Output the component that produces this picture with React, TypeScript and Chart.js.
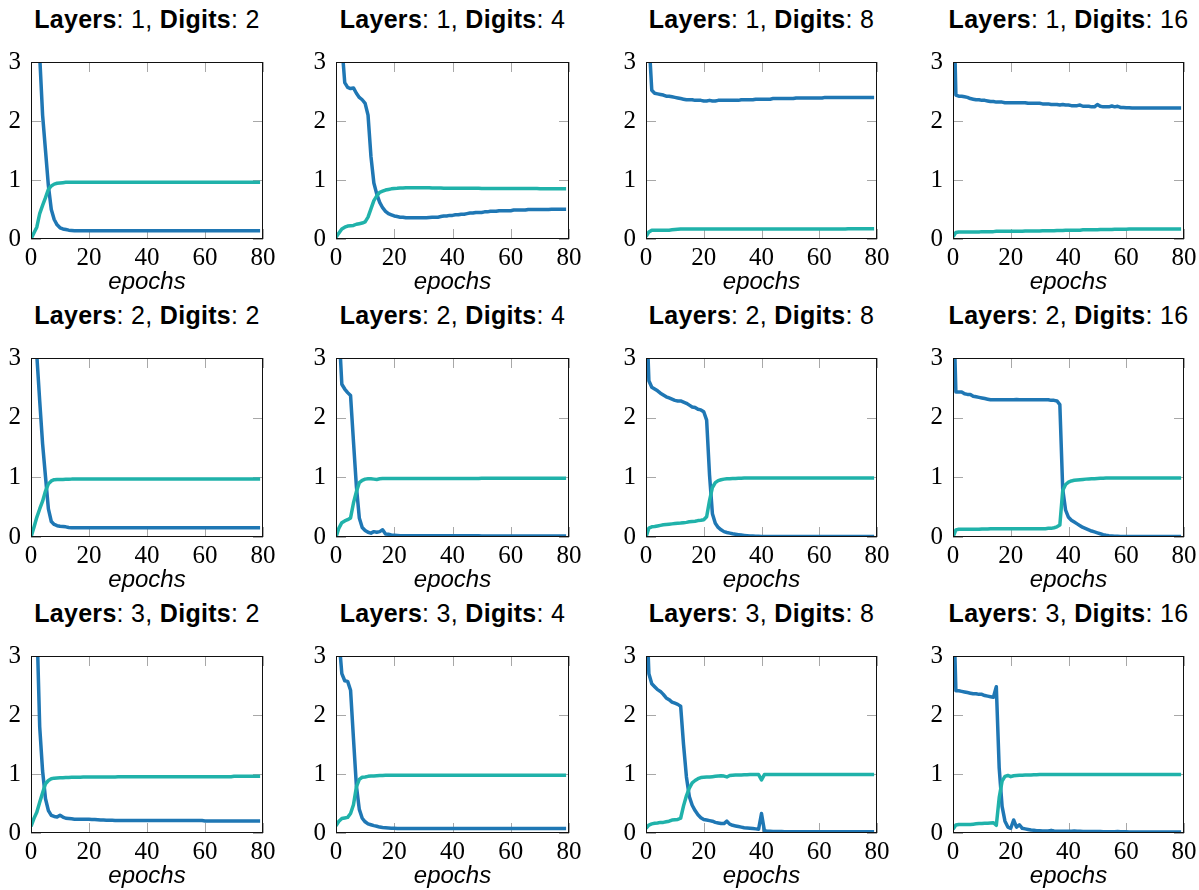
import React, { useEffect, useRef } from "react";
import { Chart, registerables } from "chart.js";

Chart.register(...registerables);

// ---------- data ----------
const epochs = [
  0, 1, 2, 3, 4, 5, 6, 7, 8, 9, 10, 11, 12, 13, 14, 15, 16, 17, 18, 19,
  20, 21, 22, 23, 24, 25, 26, 27, 28, 29, 30, 31, 32, 33, 34, 35, 36, 37, 38, 39,
  40, 41, 42, 43, 44, 45, 46, 47, 48, 49, 50, 51, 52, 53, 54, 55, 56, 57, 58, 59,
  60, 61, 62, 63, 64, 65, 66, 67, 68, 69, 70, 71, 72, 73, 74, 75, 76, 77, 78, 79,
];
const xTicks = [0, 20, 40, 60, 80];
const yTicks = [0, 1, 2, 3];

const lossL1D2 = [
  4.6, 4.2, 3.6, 3.1, 2.1, 1.5, 0.9, 0.5, 0.33, 0.24,
  0.19, 0.17, 0.16, 0.15, 0.145, 0.14, 0.14, 0.14, 0.14, 0.14,
  0.14, 0.14, 0.14, 0.14, 0.14, 0.14, 0.14, 0.14, 0.14, 0.14,
  0.14, 0.14, 0.14, 0.14, 0.14, 0.14, 0.14, 0.14, 0.14, 0.14,
  0.14, 0.14, 0.14, 0.14, 0.14, 0.14, 0.14, 0.14, 0.14, 0.14,
  0.14, 0.14, 0.14, 0.14, 0.14, 0.14, 0.14, 0.14, 0.14, 0.14,
  0.14, 0.14, 0.14, 0.14, 0.14, 0.14, 0.14, 0.14, 0.14, 0.14,
  0.14, 0.14, 0.14, 0.14, 0.14, 0.14, 0.14, 0.14, 0.14, 0.14,
];
const accL1D2 = [
  0.0, 0.1, 0.2, 0.43, 0.57, 0.7, 0.84, 0.9, 0.93, 0.945,
  0.95, 0.955, 0.96, 0.96, 0.96, 0.96, 0.96, 0.96, 0.96, 0.96,
  0.96, 0.96, 0.96, 0.96, 0.96, 0.96, 0.96, 0.96, 0.96, 0.96,
  0.96, 0.96, 0.96, 0.96, 0.96, 0.96, 0.96, 0.96, 0.96, 0.96,
  0.96, 0.96, 0.96, 0.96, 0.96, 0.96, 0.96, 0.96, 0.96, 0.96,
  0.96, 0.96, 0.96, 0.96, 0.96, 0.96, 0.96, 0.96, 0.96, 0.96,
  0.96, 0.96, 0.96, 0.96, 0.96, 0.96, 0.96, 0.96, 0.96, 0.96,
  0.96, 0.96, 0.96, 0.96, 0.96, 0.96, 0.96, 0.96, 0.96, 0.96,
];

const lossL1D4 = [
  4.3, 3.6, 3.3, 2.65, 2.57, 2.55, 2.56, 2.47, 2.4, 2.36,
  2.3, 2.1, 1.4, 0.95, 0.76, 0.62, 0.53, 0.47, 0.43, 0.41,
  0.39, 0.38, 0.37, 0.37, 0.36, 0.36, 0.36, 0.36, 0.36, 0.36,
  0.36, 0.36, 0.365, 0.37, 0.37, 0.37, 0.38, 0.39, 0.39, 0.4,
  0.4, 0.41, 0.41, 0.42, 0.42, 0.43, 0.44, 0.44, 0.45, 0.45,
  0.45, 0.46, 0.46, 0.47, 0.47, 0.47, 0.48, 0.48, 0.48, 0.48,
  0.48, 0.49, 0.49, 0.49, 0.49, 0.49, 0.5, 0.5, 0.5, 0.5,
  0.5, 0.5, 0.5, 0.5, 0.505, 0.505, 0.505, 0.505, 0.505, 0.505,
];
const accL1D4 = [
  0.03, 0.1, 0.17, 0.2, 0.22, 0.225, 0.23, 0.25, 0.26, 0.27,
  0.29, 0.37, 0.51, 0.65, 0.73, 0.79, 0.81, 0.83, 0.84, 0.85,
  0.857, 0.86, 0.865, 0.865, 0.87, 0.87, 0.87, 0.87, 0.87, 0.87,
  0.87, 0.87, 0.87, 0.865, 0.865, 0.865, 0.865, 0.86, 0.86, 0.86,
  0.86, 0.86, 0.86, 0.86, 0.86, 0.86, 0.86, 0.86, 0.86, 0.86,
  0.855, 0.855, 0.855, 0.855, 0.855, 0.855, 0.855, 0.855, 0.855, 0.855,
  0.855, 0.855, 0.855, 0.855, 0.855, 0.855, 0.855, 0.855, 0.855, 0.855,
  0.85, 0.85, 0.85, 0.85, 0.85, 0.85, 0.85, 0.85, 0.85, 0.85,
];

const lossL1D8 = [
  4.5, 3.4, 2.52, 2.47, 2.46, 2.45, 2.44, 2.42, 2.42, 2.41,
  2.4, 2.39, 2.38, 2.37, 2.36, 2.36, 2.36, 2.35, 2.35, 2.35,
  2.34, 2.34, 2.35, 2.34, 2.34, 2.35, 2.35, 2.35, 2.35, 2.35,
  2.35, 2.35, 2.35, 2.36, 2.36, 2.36, 2.36, 2.36, 2.37, 2.37,
  2.37, 2.37, 2.37, 2.37, 2.38, 2.38, 2.38, 2.38, 2.38, 2.38,
  2.38, 2.38, 2.39, 2.39, 2.39, 2.39, 2.39, 2.39, 2.39, 2.39,
  2.39, 2.39, 2.4, 2.4, 2.4, 2.4, 2.4, 2.4, 2.4, 2.4,
  2.4, 2.4, 2.4, 2.4, 2.4, 2.4, 2.4, 2.4, 2.4, 2.4,
];
const accL1D8 = [
  0.04, 0.12, 0.15, 0.15, 0.15, 0.15, 0.15, 0.15, 0.15, 0.155,
  0.16, 0.165, 0.17, 0.17, 0.17, 0.17, 0.17, 0.17, 0.17, 0.17,
  0.17, 0.17, 0.17, 0.17, 0.17, 0.17, 0.17, 0.17, 0.17, 0.17,
  0.17, 0.17, 0.17, 0.17, 0.17, 0.17, 0.17, 0.17, 0.17, 0.17,
  0.17, 0.17, 0.17, 0.17, 0.17, 0.17, 0.17, 0.17, 0.17, 0.17,
  0.17, 0.17, 0.17, 0.17, 0.17, 0.17, 0.17, 0.17, 0.17, 0.17,
  0.17, 0.17, 0.17, 0.17, 0.17, 0.17, 0.17, 0.17, 0.17, 0.17,
  0.175, 0.175, 0.175, 0.175, 0.175, 0.175, 0.175, 0.175, 0.175, 0.175,
];

const lossL1D16 = [
  4.5, 2.44, 2.42, 2.42, 2.41, 2.4, 2.38, 2.37, 2.36, 2.36,
  2.35, 2.35, 2.34, 2.33, 2.33, 2.32, 2.32, 2.32, 2.31, 2.31,
  2.31, 2.31, 2.31, 2.31, 2.31, 2.31, 2.3, 2.3, 2.3, 2.3,
  2.3, 2.29, 2.29, 2.29, 2.28, 2.28, 2.28, 2.27, 2.28, 2.27,
  2.27, 2.26, 2.26, 2.26, 2.27, 2.25, 2.25, 2.25, 2.24, 2.24,
  2.28, 2.25, 2.24, 2.24, 2.24, 2.255, 2.24, 2.25, 2.23, 2.23,
  2.225, 2.225, 2.22, 2.22, 2.22, 2.22, 2.22, 2.22, 2.22, 2.22,
  2.22, 2.22, 2.22, 2.22, 2.22, 2.22, 2.22, 2.22, 2.22, 2.22,
];
const accL1D16 = [
  0.04, 0.11, 0.12, 0.12, 0.12, 0.12, 0.12, 0.12, 0.12, 0.12,
  0.125, 0.125, 0.125, 0.125, 0.125, 0.13, 0.13, 0.13, 0.13, 0.13,
  0.13, 0.13, 0.13, 0.13, 0.13, 0.135, 0.135, 0.135, 0.135, 0.135,
  0.135, 0.14, 0.14, 0.14, 0.14, 0.14, 0.145, 0.145, 0.145, 0.15,
  0.15, 0.15, 0.15, 0.15, 0.15, 0.155, 0.155, 0.155, 0.155, 0.155,
  0.155, 0.16, 0.16, 0.16, 0.16, 0.16, 0.165, 0.165, 0.165, 0.165,
  0.165, 0.17, 0.17, 0.17, 0.17, 0.17, 0.17, 0.17, 0.17, 0.17,
  0.17, 0.17, 0.17, 0.17, 0.17, 0.17, 0.17, 0.17, 0.17, 0.17,
];

const lossL2D2 = [
  4.6, 3.8, 3.05, 2.28, 1.56, 1.01, 0.47, 0.26, 0.21, 0.19,
  0.18, 0.175, 0.17, 0.16, 0.155, 0.155, 0.155, 0.155, 0.155, 0.155,
  0.155, 0.155, 0.155, 0.155, 0.155, 0.155, 0.155, 0.155, 0.155, 0.155,
  0.155, 0.155, 0.155, 0.155, 0.155, 0.155, 0.155, 0.155, 0.155, 0.155,
  0.155, 0.155, 0.155, 0.155, 0.155, 0.155, 0.155, 0.155, 0.155, 0.155,
  0.155, 0.155, 0.155, 0.155, 0.155, 0.155, 0.155, 0.155, 0.155, 0.155,
  0.155, 0.155, 0.155, 0.155, 0.155, 0.155, 0.155, 0.155, 0.155, 0.155,
  0.155, 0.155, 0.155, 0.155, 0.155, 0.155, 0.155, 0.155, 0.155, 0.155,
];
const accL2D2 = [
  0.0, 0.16, 0.33, 0.47, 0.6, 0.77, 0.89, 0.94, 0.96, 0.963,
  0.965, 0.965, 0.967, 0.967, 0.97, 0.97, 0.97, 0.97, 0.97, 0.97,
  0.97, 0.97, 0.97, 0.97, 0.97, 0.97, 0.97, 0.97, 0.97, 0.97,
  0.97, 0.97, 0.97, 0.97, 0.97, 0.97, 0.97, 0.97, 0.97, 0.97,
  0.97, 0.97, 0.97, 0.97, 0.97, 0.97, 0.97, 0.97, 0.97, 0.97,
  0.97, 0.97, 0.97, 0.97, 0.97, 0.97, 0.97, 0.97, 0.97, 0.97,
  0.97, 0.97, 0.97, 0.97, 0.97, 0.97, 0.97, 0.97, 0.97, 0.97,
  0.97, 0.97, 0.97, 0.97, 0.97, 0.97, 0.97, 0.97, 0.97, 0.97,
];

const lossL2D4 = [
  4.5, 3.5, 2.56, 2.48, 2.42, 2.37, 1.6, 0.85, 0.32, 0.16,
  0.11, 0.08, 0.065, 0.09, 0.08, 0.09, 0.12, 0.05, 0.045, 0.035,
  0.03, 0.025, 0.02, 0.02, 0.02, 0.02, 0.02, 0.02, 0.02, 0.02,
  0.02, 0.02, 0.02, 0.02, 0.02, 0.02, 0.02, 0.02, 0.02, 0.02,
  0.02, 0.02, 0.02, 0.02, 0.02, 0.02, 0.02, 0.02, 0.02, 0.02,
  0.015, 0.015, 0.015, 0.015, 0.015, 0.015, 0.015, 0.015, 0.015, 0.015,
  0.015, 0.015, 0.015, 0.015, 0.015, 0.015, 0.015, 0.015, 0.015, 0.015,
  0.015, 0.015, 0.015, 0.015, 0.015, 0.015, 0.015, 0.015, 0.015, 0.015,
];
const accL2D4 = [
  0.0, 0.15, 0.24, 0.27, 0.29, 0.32, 0.57, 0.76, 0.91, 0.95,
  0.97, 0.975, 0.975, 0.97, 0.965, 0.975, 0.98, 0.98, 0.98, 0.98,
  0.98, 0.98, 0.98, 0.98, 0.98, 0.98, 0.98, 0.98, 0.98, 0.98,
  0.98, 0.98, 0.98, 0.98, 0.98, 0.98, 0.98, 0.98, 0.98, 0.98,
  0.98, 0.98, 0.98, 0.98, 0.98, 0.98, 0.98, 0.98, 0.98, 0.98,
  0.985, 0.985, 0.985, 0.985, 0.985, 0.985, 0.985, 0.985, 0.985, 0.985,
  0.985, 0.985, 0.985, 0.985, 0.985, 0.985, 0.985, 0.985, 0.985, 0.985,
  0.985, 0.985, 0.985, 0.985, 0.985, 0.985, 0.985, 0.985, 0.985, 0.985,
];

const lossL2D8 = [
  4.0, 2.62, 2.51, 2.48, 2.45, 2.41, 2.38, 2.35, 2.33, 2.31,
  2.29, 2.28, 2.28, 2.26, 2.24, 2.21, 2.18, 2.17, 2.14, 2.13,
  2.1, 1.96, 1.04, 0.39, 0.23, 0.16, 0.12, 0.09, 0.076, 0.065,
  0.054, 0.047, 0.04, 0.033, 0.027, 0.022, 0.018, 0.015, 0.013, 0.012,
  0.01, 0.01, 0.01, 0.01, 0.01, 0.01, 0.01, 0.01, 0.01, 0.01,
  0.01, 0.01, 0.01, 0.01, 0.01, 0.01, 0.01, 0.01, 0.01, 0.01,
  0.01, 0.01, 0.01, 0.01, 0.01, 0.01, 0.01, 0.01, 0.01, 0.01,
  0.01, 0.01, 0.01, 0.01, 0.01, 0.01, 0.01, 0.01, 0.01, 0.01,
];
const accL2D8 = [
  0.0, 0.15, 0.17, 0.175, 0.185, 0.195, 0.205, 0.21, 0.215, 0.22,
  0.225, 0.23, 0.234, 0.24, 0.245, 0.255, 0.26, 0.265, 0.275, 0.28,
  0.29, 0.34, 0.61, 0.83, 0.91, 0.945, 0.96, 0.97, 0.975, 0.978,
  0.98, 0.982, 0.984, 0.986, 0.988, 0.99, 0.99, 0.99, 0.99, 0.99,
  0.99, 0.99, 0.99, 0.99, 0.99, 0.99, 0.99, 0.99, 0.99, 0.99,
  0.99, 0.99, 0.99, 0.99, 0.99, 0.99, 0.99, 0.99, 0.99, 0.99,
  0.99, 0.99, 0.99, 0.99, 0.99, 0.99, 0.99, 0.99, 0.99, 0.99,
  0.99, 0.99, 0.99, 0.99, 0.99, 0.99, 0.99, 0.99, 0.99, 0.99,
];

const lossL2D16 = [
  4.2, 2.43, 2.43, 2.43, 2.4, 2.39, 2.39, 2.36, 2.35, 2.34,
  2.33, 2.32, 2.31, 2.3, 2.3, 2.3, 2.3, 2.3, 2.3, 2.3,
  2.3, 2.3, 2.305, 2.3, 2.3, 2.3, 2.3, 2.3, 2.3, 2.3,
  2.3, 2.3, 2.3, 2.3, 2.29, 2.29, 2.28, 2.22, 0.8, 0.45,
  0.33, 0.28, 0.25, 0.22, 0.19, 0.16, 0.14, 0.12, 0.1, 0.085,
  0.07, 0.055, 0.04, 0.03, 0.022, 0.017, 0.013, 0.011, 0.01, 0.01,
  0.01, 0.01, 0.01, 0.01, 0.01, 0.01, 0.01, 0.01, 0.01, 0.01,
  0.01, 0.01, 0.01, 0.01, 0.01, 0.01, 0.01, 0.01, 0.01, 0.01,
];
const accL2D16 = [
  0.0, 0.12, 0.13, 0.13, 0.13, 0.13, 0.13, 0.13, 0.13, 0.13,
  0.135, 0.135, 0.135, 0.14, 0.14, 0.14, 0.14, 0.14, 0.14, 0.14,
  0.14, 0.14, 0.14, 0.14, 0.14, 0.14, 0.14, 0.14, 0.14, 0.14,
  0.14, 0.14, 0.14, 0.145, 0.145, 0.155, 0.17, 0.2, 0.78, 0.88,
  0.92, 0.94, 0.95, 0.955, 0.96, 0.965, 0.97, 0.973, 0.976, 0.978,
  0.98, 0.983, 0.985, 0.987, 0.988, 0.99, 0.99, 0.99, 0.99, 0.99,
  0.99, 0.99, 0.99, 0.99, 0.99, 0.99, 0.99, 0.99, 0.99, 0.99,
  0.99, 0.99, 0.99, 0.99, 0.99, 0.99, 0.99, 0.99, 0.99, 0.99,
];

const lossL3D2 = [
  4.6, 4.1, 3.6, 1.8, 1.05, 0.58, 0.38, 0.3, 0.28, 0.27,
  0.3, 0.27, 0.25, 0.245, 0.24, 0.235, 0.235, 0.235, 0.235, 0.235,
  0.232, 0.23, 0.23, 0.225, 0.22, 0.22, 0.218, 0.215, 0.215, 0.213,
  0.212, 0.21, 0.21, 0.21, 0.21, 0.21, 0.21, 0.21, 0.21, 0.21,
  0.21, 0.21, 0.21, 0.21, 0.21, 0.21, 0.21, 0.21, 0.21, 0.21,
  0.21, 0.21, 0.21, 0.21, 0.21, 0.21, 0.21, 0.21, 0.21, 0.21,
  0.205, 0.205, 0.205, 0.205, 0.205, 0.205, 0.205, 0.205, 0.205, 0.205,
  0.205, 0.205, 0.205, 0.205, 0.205, 0.205, 0.205, 0.205, 0.205, 0.205,
];
const accL3D2 = [
  0.11, 0.245, 0.35, 0.52, 0.68, 0.835, 0.89, 0.92, 0.93, 0.933,
  0.935, 0.938, 0.94, 0.942, 0.944, 0.945, 0.946, 0.947, 0.948, 0.949,
  0.95, 0.95, 0.95, 0.95, 0.95, 0.95, 0.95, 0.95, 0.95, 0.95,
  0.952, 0.952, 0.952, 0.952, 0.952, 0.952, 0.952, 0.952, 0.952, 0.952,
  0.955, 0.955, 0.955, 0.955, 0.955, 0.955, 0.955, 0.955, 0.955, 0.955,
  0.955, 0.955, 0.955, 0.955, 0.955, 0.955, 0.955, 0.955, 0.955, 0.955,
  0.955, 0.955, 0.955, 0.955, 0.955, 0.955, 0.955, 0.955, 0.955, 0.955,
  0.96, 0.96, 0.96, 0.96, 0.96, 0.96, 0.96, 0.96, 0.96, 0.96,
];

const lossL3D4 = [
  4.3, 3.3, 2.7, 2.58, 2.57, 2.42, 1.6, 0.8, 0.4, 0.25,
  0.19, 0.155, 0.14, 0.125, 0.115, 0.1, 0.092, 0.088, 0.085, 0.082,
  0.08, 0.078, 0.077, 0.076, 0.076, 0.075, 0.075, 0.075, 0.075, 0.075,
  0.075, 0.075, 0.075, 0.075, 0.075, 0.075, 0.075, 0.075, 0.075, 0.075,
  0.075, 0.075, 0.075, 0.075, 0.075, 0.075, 0.075, 0.075, 0.075, 0.075,
  0.075, 0.075, 0.075, 0.075, 0.075, 0.075, 0.075, 0.075, 0.075, 0.075,
  0.075, 0.075, 0.075, 0.075, 0.075, 0.075, 0.075, 0.075, 0.075, 0.075,
  0.075, 0.075, 0.075, 0.075, 0.075, 0.075, 0.075, 0.075, 0.075, 0.075,
];
const accL3D4 = [
  0.12, 0.2, 0.245, 0.255, 0.265, 0.33, 0.48, 0.78, 0.91, 0.945,
  0.95, 0.96, 0.965, 0.968, 0.97, 0.973, 0.975, 0.977, 0.978, 0.98,
  0.98, 0.98, 0.98, 0.98, 0.98, 0.98, 0.98, 0.98, 0.98, 0.98,
  0.98, 0.98, 0.98, 0.98, 0.98, 0.98, 0.98, 0.98, 0.98, 0.98,
  0.98, 0.98, 0.98, 0.98, 0.98, 0.98, 0.98, 0.98, 0.98, 0.98,
  0.98, 0.98, 0.98, 0.98, 0.98, 0.98, 0.98, 0.98, 0.98, 0.98,
  0.98, 0.98, 0.98, 0.98, 0.98, 0.98, 0.98, 0.98, 0.98, 0.98,
  0.98, 0.98, 0.98, 0.98, 0.98, 0.98, 0.98, 0.98, 0.98, 0.98,
];

const lossL3D8 = [
  4.0, 2.7, 2.53, 2.48, 2.43, 2.4, 2.35, 2.29, 2.26, 2.22,
  2.2, 2.18, 2.15, 1.5, 0.95, 0.62, 0.47, 0.38, 0.31, 0.26,
  0.23, 0.22, 0.21, 0.2, 0.18, 0.17, 0.16, 0.16, 0.2, 0.15,
  0.13, 0.12, 0.11, 0.1, 0.09, 0.085, 0.08, 0.075, 0.07, 0.065,
  0.33, 0.04, 0.03, 0.028, 0.026, 0.025, 0.025, 0.024, 0.023, 0.022,
  0.022, 0.021, 0.021, 0.02, 0.02, 0.02, 0.02, 0.02, 0.02, 0.02,
  0.02, 0.02, 0.02, 0.02, 0.02, 0.02, 0.02, 0.02, 0.02, 0.02,
  0.02, 0.02, 0.02, 0.02, 0.02, 0.02, 0.02, 0.02, 0.02, 0.02,
];
const accL3D8 = [
  0.08, 0.135, 0.155, 0.165, 0.17, 0.18, 0.18, 0.19, 0.2, 0.22,
  0.225, 0.23, 0.25, 0.46, 0.63, 0.76, 0.85, 0.89, 0.92, 0.94,
  0.945, 0.948, 0.95, 0.955, 0.96, 0.965, 0.97, 0.965, 0.95, 0.975,
  0.98, 0.982, 0.984, 0.985, 0.986, 0.988, 0.99, 0.99, 0.99, 0.99,
  0.9, 0.99, 0.992, 0.992, 0.992, 0.992, 0.992, 0.992, 0.992, 0.992,
  0.992, 0.992, 0.992, 0.992, 0.992, 0.992, 0.992, 0.992, 0.992, 0.992,
  0.992, 0.992, 0.992, 0.992, 0.992, 0.992, 0.992, 0.992, 0.992, 0.992,
  0.992, 0.992, 0.992, 0.992, 0.992, 0.992, 0.992, 0.992, 0.992, 0.992,
];

const lossL3D16 = [
  4.2, 2.41, 2.41, 2.4, 2.39, 2.38, 2.37, 2.36, 2.36, 2.35,
  2.35, 2.33, 2.32, 2.31, 2.3, 2.48, 1.1, 0.45, 0.2, 0.1,
  0.08, 0.22, 0.1, 0.14, 0.08, 0.07, 0.06, 0.05, 0.045, 0.04,
  0.04, 0.035, 0.035, 0.035, 0.045, 0.035, 0.03, 0.03, 0.03, 0.03,
  0.03, 0.03, 0.035, 0.03, 0.03, 0.025, 0.025, 0.025, 0.025, 0.025,
  0.025, 0.025, 0.02, 0.02, 0.02, 0.02, 0.02, 0.025, 0.02, 0.02,
  0.02, 0.015, 0.015, 0.015, 0.015, 0.015, 0.015, 0.015, 0.015, 0.015,
  0.015, 0.015, 0.015, 0.015, 0.015, 0.015, 0.015, 0.015, 0.015, 0.015,
];
const accL3D16 = [
  0.065, 0.135, 0.145, 0.145, 0.145, 0.145, 0.145, 0.15, 0.155, 0.16,
  0.16, 0.165, 0.165, 0.17, 0.175, 0.13, 0.6, 0.88, 0.96, 0.975,
  0.955, 0.97, 0.975, 0.978, 0.98, 0.982, 0.985, 0.985, 0.987, 0.988,
  0.99, 0.99, 0.99, 0.99, 0.99, 0.99, 0.99, 0.99, 0.99, 0.99,
  0.99, 0.99, 0.99, 0.99, 0.99, 0.99, 0.99, 0.99, 0.99, 0.99,
  0.99, 0.99, 0.99, 0.99, 0.99, 0.99, 0.99, 0.99, 0.99, 0.99,
  0.99, 0.99, 0.99, 0.99, 0.99, 0.99, 0.99, 0.99, 0.99, 0.99,
  0.99, 0.99, 0.99, 0.99, 0.99, 0.99, 0.99, 0.99, 0.99, 0.99,
];

const layersList = [1, 2, 3];
const digitsList = [2, 4, 8, 16];
const lossSeries = [
  [lossL1D2, lossL1D4, lossL1D8, lossL1D16],
  [lossL2D2, lossL2D4, lossL2D8, lossL2D16],
  [lossL3D2, lossL3D4, lossL3D8, lossL3D16],
];
const accSeries = [
  [accL1D2, accL1D4, accL1D8, accL1D16],
  [accL2D2, accL2D4, accL2D8, accL2D16],
  [accL3D2, accL3D4, accL3D8, accL3D16],
];

// ---------- layout / style ----------
const COL_LEFT = [31, 336, 646, 953];
const COL_WIDTH = [232, 233, 231, 231];
const ROW_TOP = [57, 353, 651];
const ROW_HEIGHT = [182, 184, 182];
const PAD_LEFT = 40;
const PAD_TOP = 20;
const PAD_RIGHT = 25;
const PAD_BOTTOM = 60;
const BLUE = "#1f77b4";
const TEAL = "#20b2aa";
const TICK_LEN = 10;

const boxPlugin = {
  id: "pgfbox",
  beforeDatasetsDraw(chart: any) {
    const { ctx, chartArea } = chart;
    const { left, right, top, bottom } = chartArea;
    const xs = chart.scales.x;
    const ys = chart.scales.y;
    ctx.save();
    ctx.strokeStyle = "#a8a8a8";
    ctx.lineWidth = 1;
    ctx.beginPath();
    xs.ticks.forEach((t: any) => {
      const px = Math.round(xs.getPixelForValue(t.value)) + 0.5;
      ctx.moveTo(px, top);
      ctx.lineTo(px, top + TICK_LEN);
      ctx.moveTo(px, bottom);
      ctx.lineTo(px, bottom - TICK_LEN);
    });
    ys.ticks.forEach((t: any) => {
      const py = Math.round(ys.getPixelForValue(t.value)) + 0.5;
      ctx.moveTo(left, py);
      ctx.lineTo(left + TICK_LEN, py);
      ctx.moveTo(right, py);
      ctx.lineTo(right - TICK_LEN, py);
    });
    ctx.stroke();
    ctx.restore();
  },
  afterDatasetsDraw(chart: any) {
    const { ctx, chartArea } = chart;
    const { left, right, top, bottom } = chartArea;
    ctx.save();
    ctx.strokeStyle = "#111";
    ctx.lineWidth = 1;
    ctx.strokeRect(left + 0.5, top + 0.5, right - left - 1, bottom - top - 1);
    ctx.restore();
  },
};

function Panel({ r, c }: { r: number; c: number }) {
  const ref = useRef<HTMLCanvasElement | null>(null);
  const pw = COL_WIDTH[c];
  const ph = ROW_HEIGHT[r];
  const cw = PAD_LEFT + pw + PAD_RIGHT;
  const chh = PAD_TOP + ph + PAD_BOTTOM;

  useEffect(() => {
    if (!ref.current) return;
    const loss = lossSeries[r][c];
    const acc = accSeries[r][c];
    const chart = new Chart(ref.current, {
      type: "line",
      data: {
        datasets: [
          {
            label: "accuracy",
            data: epochs.map((e, i) => ({ x: e, y: acc[i] })),
            borderColor: TEAL,
            borderWidth: 3.5,
            pointRadius: 0,
            fill: false,
            tension: 0,
            clip: 0,
            order: 0,
            borderJoinStyle: "round",
          },
          {
            label: "loss",
            data: epochs.map((e, i) => ({ x: e, y: loss[i] })),
            borderColor: BLUE,
            borderWidth: 3.5,
            pointRadius: 0,
            fill: false,
            tension: 0,
            clip: 0,
            order: 1,
            borderJoinStyle: "round",
          },
        ],
      },
      options: {
        animation: false,
        responsive: false,
        devicePixelRatio: 1,
        events: [],
        layout: { padding: { top: PAD_TOP, right: PAD_RIGHT, left: 0, bottom: 0 } },
        plugins: {
          legend: { display: false },
          tooltip: { enabled: false },
          title: { display: false },
        },
        scales: {
          x: {
            type: "linear",
            min: xTicks[0],
            max: xTicks[xTicks.length - 1],
            afterFit: (s: any) => {
              s.height = PAD_BOTTOM;
            },
            afterBuildTicks: (s: any) => {
              s.ticks = xTicks.map((v) => ({ value: v }));
            },
            grid: { display: false, drawTicks: false },
            border: { display: false },
            ticks: {
              padding: 4,
              color: "#000",
              maxRotation: 0,
              autoSkip: false,
              font: { family: "'Liberation Serif', serif", size: 25, lineHeight: 1.2 },
            },
            title: {
              display: true,
              text: "epochs",
              color: "#000",
              font: { family: "'Liberation Sans', sans-serif", size: 24, style: "italic", lineHeight: 1.2 },
              padding: { top: 0, bottom: 2 },
            },
          },
          y: {
            type: "linear",
            min: yTicks[0],
            max: yTicks[yTicks.length - 1],
            afterFit: (s: any) => {
              s.width = PAD_LEFT;
            },
            afterBuildTicks: (s: any) => {
              s.ticks = yTicks.map((v) => ({ value: v }));
            },
            grid: { display: false, drawTicks: false },
            border: { display: false },
            ticks: {
              padding: 10,
              color: "#000",
              autoSkip: false,
              font: { family: "'Liberation Serif', serif", size: 25, lineHeight: 1.2 },
            },
          },
        },
      },
      plugins: [boxPlugin],
    } as any);
    return () => chart.destroy();
  }, [r, c]);

  return (
    <>
      <div
        style={{
          position: "absolute",
          left: COL_LEFT[c] - 20,
          top: ROW_TOP[r] - 50,
          width: pw + 40,
          textAlign: "center",
          fontFamily: "'Liberation Sans', sans-serif",
          fontSize: 25,
          letterSpacing: "0.3px",
          lineHeight: "25px",
          whiteSpace: "nowrap",
          color: "#000",
        }}
      >
        <b>Layers</b>: {layersList[r]}, <b>Digits</b>: {digitsList[c]}
      </div>
      <canvas
        ref={ref}
        width={cw}
        height={chh}
        style={{
          position: "absolute",
          left: COL_LEFT[c] - PAD_LEFT,
          top: ROW_TOP[r] - PAD_TOP,
          width: cw,
          height: chh,
        }}
      />
    </>
  );
}

export default function App() {
  const cells: React.ReactNode[] = [];
  layersList.forEach((_, r) =>
    digitsList.forEach((__, c) => cells.push(<Panel key={`${r}-${c}`} r={r} c={c} />))
  );
  return (
    <div
      style={{
        position: "absolute",
        left: 0,
        top: 0,
        width: 1199,
        height: 890,
        overflow: "hidden",
        background: "#fff",
      }}
    >
      {cells}
    </div>
  );
}
